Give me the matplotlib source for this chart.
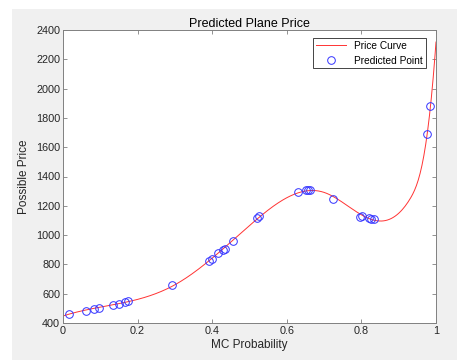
import matplotlib.pyplot as plt
import numpy as np
from matplotlib.patches import Rectangle

plt.rcParams['font.family'] = ['Liberation Sans', 'DejaVu Sans']

# predicted points (MC probability, price)
prob = [0.016, 0.062, 0.084, 0.097, 0.133, 0.150, 0.166, 0.173, 0.291,
        0.392, 0.400, 0.416, 0.430, 0.434, 0.455, 0.519, 0.526,
        0.629, 0.651, 0.657, 0.661, 0.725,
        0.796, 0.802, 0.820, 0.827, 0.834, 0.975, 0.985]
price = [461, 484, 495, 505, 525, 532, 543, 550, 660,
         823, 839, 876, 898, 907, 962, 1115, 1130,
         1296, 1306, 1306, 1306, 1244,
         1126, 1128, 1114, 1112, 1112, 1690, 1883]
# extra readings of the red curve itself (ends and the last upturn)
curve_prob = [0.0, 0.85, 0.87, 0.894, 0.928, 0.959, 1.0]
curve_price = [452, 1108, 1114, 1137, 1228, 1410, 2309]
knots = [0.3, 0.5, 0.7, 0.85, 0.93]


def basis(x):
    # cubic regression spline (truncated power basis)
    x = np.asarray(x, dtype=float)
    cols = [np.ones_like(x), x, x ** 2, x ** 3]
    cols += [np.clip(x - k, 0, None) ** 3 for k in knots]
    return np.column_stack(cols)


fig = plt.figure(figsize=(4.57, 3.6), dpi=100)
fig.patch.set_facecolor('white')
fig.patches.append(Rectangle((12 / 457, 0), 1, 1 - 9 / 360, transform=fig.transFigure,
                             facecolor='#f0f0f0', edgecolor='none', zorder=-10))

ax = fig.add_axes([63 / 457, 37 / 360, 373 / 457, 293 / 360])

# least-squares smooth curve through the readings
coef, *_ = np.linalg.lstsq(basis(prob + curve_prob), np.array(price + curve_price, float),
                           rcond=None)
xs = np.linspace(0, 1, 400)
ax.plot(xs, basis(xs) @ coef, color='#ff3333', linewidth=0.7, label='Price Curve')
ax.plot(prob, price, 'o', markerfacecolor='none', markeredgecolor='#3333ff',
        markersize=5.5, markeredgewidth=0.7, label='Predicted Point')

ax.set_xlim(0, 1)
ax.set_ylim(400, 2400)
ax.set_xticks([0, 0.2, 0.4, 0.6, 0.8, 1])
ax.set_xticklabels(['0', '0.2', '0.4', '0.6', '0.8', '1'])
ax.set_yticks(np.arange(400, 2401, 200))
ax.tick_params(direction='in', top=True, right=True, length=3, width=0.6,
               colors='#808080', labelcolor='#262626', labelsize=7.8, pad=2)
for s in ax.spines.values():
    s.set_color('#808080')
    s.set_linewidth(0.7)

ax.set_title('Predicted Plane Price', fontsize=9, color='#000000', pad=2)
ax.set_xlabel('MC Probability', fontsize=8.5, color='#262626', labelpad=2)
ax.set_ylabel('Possible Price', fontsize=8.5, color='#262626', labelpad=4)

leg = ax.legend(loc='upper right', fontsize=7.3, fancybox=False, framealpha=1,
                edgecolor='#262626', borderpad=0.25, handlelength=3.0,
                bbox_to_anchor=(0.986, 0.99))
leg.get_frame().set_linewidth(0.6)

fig.savefig('out.png', dpi=100)
